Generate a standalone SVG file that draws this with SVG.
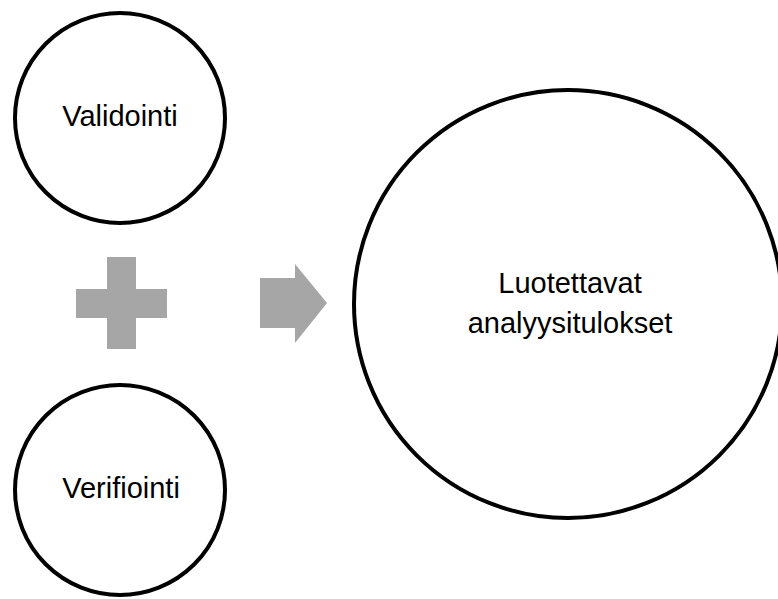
<svg xmlns="http://www.w3.org/2000/svg" width="778" height="599" viewBox="0 0 778 599">
<style>
.c{fill:#fff;stroke:#000;stroke-width:4}
.t{font-family:"Liberation Sans",Arial,sans-serif;font-size:29px;fill:#000;text-anchor:middle}
.g{fill:#a6a6a6;stroke:none}
</style>
<rect width="778" height="599" fill="#fff"/>
<g id="validointi">
<circle class="c" cx="120" cy="118" r="105"/>
<text class="t" x="120" y="126">Validointi</text>
</g>
<g id="verifiointi">
<circle class="c" cx="120" cy="490" r="105"/>
<text class="t" x="121" y="498">Verifiointi</text>
</g>
<g id="tulokset">
<circle class="c" cx="568" cy="304" r="214"/>
<text class="t" x="570" y="293">Luotettavat</text>
<text class="t" x="570" y="333">analyysitulokset</text>
</g>
<g id="connectors">
<path class="g" d="M107,257H136V289H167V318H136V349H107V318H76V289H107Z"/>
<polygon class="g" points="260,278 295,278 295,264 327,303 295,343 295,328 260,328"/>
</g>
</svg>
